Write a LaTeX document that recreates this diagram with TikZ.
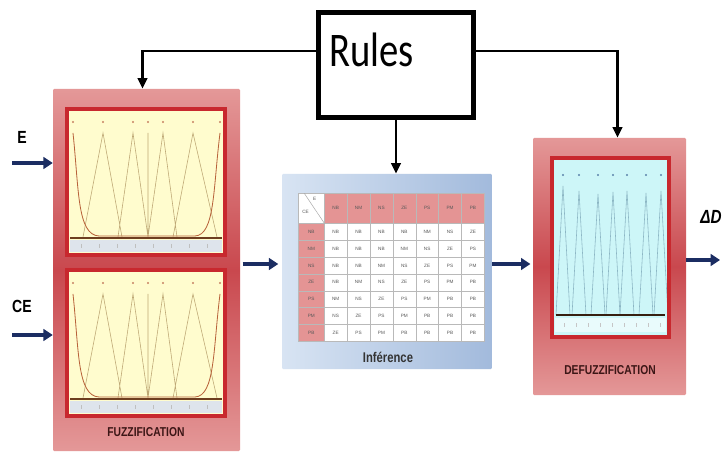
\documentclass[tikz,border=0pt]{standalone}
\usepackage{fontspec}
\setmainfont{Liberation Sans}
\newfontfamily\rulesfont{Carlito}
\usepackage{graphicx}
\usetikzlibrary{
    positioning,
    arrows.meta,
    matrix,
    calc,
}
\newlength\pxu
\setlength\pxu{0.03cm}
\newcommand\tallText[1]{\scalebox{1}[1.25]{#1}}
\definecolor{navy}{RGB}{27,45,98}
\definecolor{boxpink}{RGB}{228,152,152}
\definecolor{boxred}{RGB}{201,72,78}
\definecolor{framered}{RGB}{200,40,46}
\definecolor{mfyellow}{RGB}{255,252,206}
\definecolor{mfcyan}{RGB}{205,246,248}
\definecolor{mfline}{RGB}{190,168,118}
\definecolor{mfcurve}{RGB}{184,98,58}
\definecolor{mfbase}{RGB}{110,62,32}
\definecolor{stripgray}{RGB}{222,228,236}
\definecolor{cellpink}{RGB}{228,148,148}
\definecolor{infleft}{RGB}{216,228,243}
\definecolor{infright}{RGB}{162,186,220}
\definecolor{dline}{RGB}{140,182,196}
\definecolor{steelblue}{RGB}{90,130,170}
\definecolor{labeldark}{RGB}{60,22,22}
\tikzset{
    % Block styles
    stage/.style={rectangle, rounded corners=1pt, top color=boxpink,
                  bottom color=boxpink, middle color=boxred},
    panel/.style={rectangle, outer sep=0pt, inner sep=0pt},
    frame/.style={draw=framered, line width=4pt},
    rulesbox/.style={rectangle, draw, line width=5pt, fill=white,
                     minimum width=155\pxu, minimum height=105\pxu},
    % Arrow styles
    ctrl/.style={-{Triangle[length=9pt, width=8pt]}, line width=2.5pt},
    flow/.style={-{Triangle[length=8pt, width=10pt]}, line width=3.4pt, navy},
    % Text styles
    inlabel/.style={font=\fontsize{12}{13}\selectfont\bfseries},
    stagelabel/.style={font=\fontsize{8.8}{10}\selectfont\bfseries, text=labeldark},
    % Rule table
    ruletable/.style={matrix of nodes,
        nodes={draw=gray!55, line width=0.3pt, minimum width=23\pxu,
               minimum height=17\pxu, inner sep=0pt, fill=white, anchor=center,
               font=\fontsize{4}{4.5}\selectfont, text=black!65},
        column sep=-\pgflinewidth, row sep=-\pgflinewidth,
        column 1/.style={nodes={fill=cellpink, minimum width=26\pxu}},
        row 1/.style={nodes={fill=cellpink, minimum height=30\pxu}}},
    % Membership function plots
    pics/mfset/.style={code={
        \fill[stripgray] (3,131) rectangle (155,143);
        \foreach \t in {14,32,...,150} \draw[gray!50, line width=0.4pt] (\t,135) -- (\t,139);
        \draw[mfline, line width=0.5pt] (16,128) -- (36,24) -- (55,128)
            (51,128) -- (66,24) -- (81,128) (81,128) -- (81,24)
            (81,128) -- (96,24) -- (110,128) (106,128) -- (126,24) -- (150,128);
        \draw[mfcurve, line width=0.7pt] (6,24) .. controls (12,80) and (10,126) .. (32,127)
            -- (128,127) .. controls (148,126) and (146,80) .. (153,24);
        \draw[mfbase, line width=1pt] (3,129) -- (155,129);
        \foreach \m in {6,36,66,81,96,126,153} \fill[mfcurve!80] (\m,13) circle[radius=0.9pt];
    }},
    pics/outset/.style={code={
        \fill[white!55!mfcyan] (3,160) rectangle (114,174);
        \foreach \t in {12,24,...,108} \draw[gray!45, line width=0.4pt] (\t,165) -- (\t,169);
        \foreach \m/\h in {11/28,27/33,46/36,61/34,75/33,94/35,109/33} {
            \draw[dline, line width=0.5pt] (\m-7,157) -- (\m,\h) -- (\m+7,157);
            \fill[steelblue] (\m,17) circle[radius=0.9pt];
        }
        \draw[mfbase!50!black, line width=1pt] (4,157) -- (113,157);
    }},
}

\begin{document}
\begin{tikzpicture}[x=\pxu, y=-\pxu]
    \useasboundingbox[fill=white] (0,0) rectangle (725,455);

    % Stages
    \node[stage, minimum width=187\pxu, minimum height=362\pxu] (fuzz) at (146.5,270) {};
    \node[stage, left color=infleft, right color=infright,
          minimum width=210\pxu, minimum height=195\pxu] (infer) at (387,271.5) {};
    \node[stage, minimum width=153\pxu, minimum height=257\pxu] (defuzz) at (609.5,266.5) {};

    % Fuzzification panels
    \node[panel, fill=mfyellow, minimum width=158\pxu, minimum height=146\pxu] (fuzzE) at (146,182) {};
    \node[panel, fill=mfyellow, minimum width=158\pxu, minimum height=146\pxu] (fuzzCE) at (146,343) {};
    \pic at (fuzzE.north west) {mfset};
    \pic at (fuzzCE.north west) {mfset};
    \draw[frame] (fuzzE.north west) rectangle (fuzzE.south east);
    \draw[frame] (fuzzCE.north west) rectangle (fuzzCE.south east);

    % Defuzzification panel
    \node[panel, fill=mfcyan, minimum width=117\pxu, minimum height=179\pxu] (outD) at (610.5,247.5) {};
    \pic at (outD.north west) {outset};
    \draw[frame] (outD.north west) rectangle (outD.south east);

    % Rule table
    \matrix[ruletable, anchor=north west] (tab) at (294,189) {
        |[fill=white]| & NB & NM & NS & ZE & PS & PM & PB \\
        NB & NB & NB & NB & NB & NM & NS & ZE \\
        NM & NB & NB & NB & NM & NS & ZE & PS \\
        NS & NB & NB & NM & NS & ZE & PS & PM \\
        ZE & NB & NM & NS & ZE & PS & PM & PB \\
        PS & NM & NS & ZE & PS & PM & PB & PB \\
        PM & NS & ZE & PS & PM & PB & PB & PB \\
        PB & ZE & PS & PM & PB & PB & PB & PB \\
    };
    \draw[gray!70, line width=0.4pt] ([xshift=6\pxu]tab-1-1.north west) -- (tab-1-1.south east);
    \node[font=\fontsize{4}{4.5}\selectfont, text=black!65, anchor=north east] (tabE) at ([xshift=-4\pxu]tab-1-1.north east) {E};
    \node[font=\fontsize{4}{4.5}\selectfont, text=black!65, anchor=south west] (tabCE) at ([yshift=6\pxu]tab-1-1.south west) {CE};

    % Rule base
    \node[rulesbox] (rules) at (396,65) {};
    \node[anchor=base west, inner sep=0pt, font=\rulesfont\fontsize{33}{36}\selectfont] (rulestxt) at (329,67) {\tallText{Rules}};

    % Labels
    \node[inlabel] (elabel) at (22,137) {\tallText{E}};
    \node[inlabel] (celabel) at (22,306) {\tallText{CE}};
    \node[font=\fontsize{13}{14}\selectfont\bfseries\itshape] (dlabel) at (711,217) {\tallText{ΔD}};
    \node[stagelabel] (fuzzlabel) at (146,432) {\tallText{FUZZIFICATION}};
    \node[stagelabel] (defuzzlabel) at (610,370) {\tallText{DEFUZZIFICATION}};
    \node[font=\fontsize{9.6}{11}\selectfont\bfseries, text=black!80] (inflabel) at (388,357) {\tallText{Inférence}};

    % Rule connections
    \draw[ctrl] ([yshift=14\pxu]rules.west) -| ([xshift=-4\pxu]fuzz.north);
    \draw[ctrl] ([yshift=14\pxu]rules.east) -| ([xshift=8\pxu]defuzz.north);
    \draw[ctrl] (rules.south) -- (rules.south |- infer.north);

    % Signal flow
    \coordinate (ein) at (12,163);
    \coordinate (cein) at (12,335);
    \coordinate (mid) at (0,264);
    \coordinate (dout) at (720,260);
    \draw[flow] (ein) -- (fuzz.west |- ein);
    \draw[flow] (cein) -- (fuzz.west |- cein);
    \draw[flow, shorten <=2pt, shorten >=3pt] (fuzz.east |- mid) -- (infer.west |- mid);
    \draw[flow, shorten >=2pt] (infer.east |- mid) -- (defuzz.west |- mid);
    \draw[flow] (defuzz.east |- dout) -- (dout);
\end{tikzpicture}
\end{document}
